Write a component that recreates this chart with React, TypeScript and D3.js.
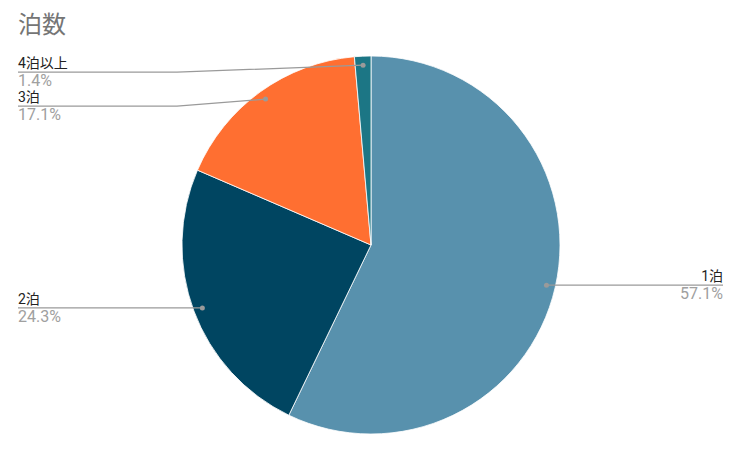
import React from "react";
import * as d3 from "d3";

const categories = ["1泊", "2泊", "3泊", "4泊以上"];
const values = [57.1, 24.3, 17.1, 1.4];
const percentLabels = ["57.1%", "24.3%", "17.1%", "1.4%"];
const colors = ["#5891AD", "#004561", "#FF6F31", "#1C7685"];

const W = 741, H = 456;
const cx = 371, cy = 245, R = 189;

export default function App() {
  const data = categories.map((c, i) => ({ c, v: values[i], p: percentLabels[i], col: colors[i] }));
  const pie = d3.pie<any>().value((d) => d.v).sort(null);
  const arcs = pie(data);
  const arcGen = d3.arc<any>().innerRadius(0).outerRadius(R);
  const dotArc = d3.arc<any>().innerRadius(180).outerRadius(180);

  const labels = arcs.map((a) => {
    const [dx, dy] = dotArc.centroid(a);
    const x = cx + dx, y = cy + dy;
    const right = x > cx;
    let ly = y + 7;
    let bendX = right ? x : 177;
    if (Math.abs(x - cx) > 120) { ly = y; bendX = x; }
    const endX = right ? 723 : 18;
    return { a, x, y, ly, bendX, endX, right };
  });

  return (
    <svg width={W} height={H} style={{ position: "absolute", left: 0, top: 0, background: "#fff" }}>
      <text x={18} y={33} fontSize={24} fill="#757575" fontFamily="Roboto, 'Noto Sans CJK JP', sans-serif">泊数</text>
      <g transform={`translate(${cx},${cy})`}>
        {arcs.map((a, i) => (
          <path key={i} d={arcGen(a) as string} fill={a.data.col} stroke="#fff" strokeWidth={0.8} />
        ))}
      </g>
      {labels.map((l, i) => (
        <g key={i}>
          <polyline
            points={`${l.x},${l.y} ${l.bendX},${l.ly} ${l.endX},${l.ly}`}
            fill="none" stroke="#9a9a9a" strokeWidth={1.2}
          />
          <circle cx={l.x} cy={l.y} r={2.5} fill="#9a9a9a" />
          <text x={l.endX} y={l.ly - 4} fontSize={14} fill="#222"
            textAnchor={l.right ? "end" : "start"}
            fontFamily="Roboto, 'Noto Sans CJK JP', sans-serif">{l.a.data.c}</text>
          <text x={l.endX} y={l.ly + 14} fontSize={16} fill="#a0a0a0"
            textAnchor={l.right ? "end" : "start"}
            fontFamily="Roboto, 'Noto Sans CJK JP', sans-serif">{l.a.data.p}</text>
        </g>
      ))}
    </svg>
  );
}
